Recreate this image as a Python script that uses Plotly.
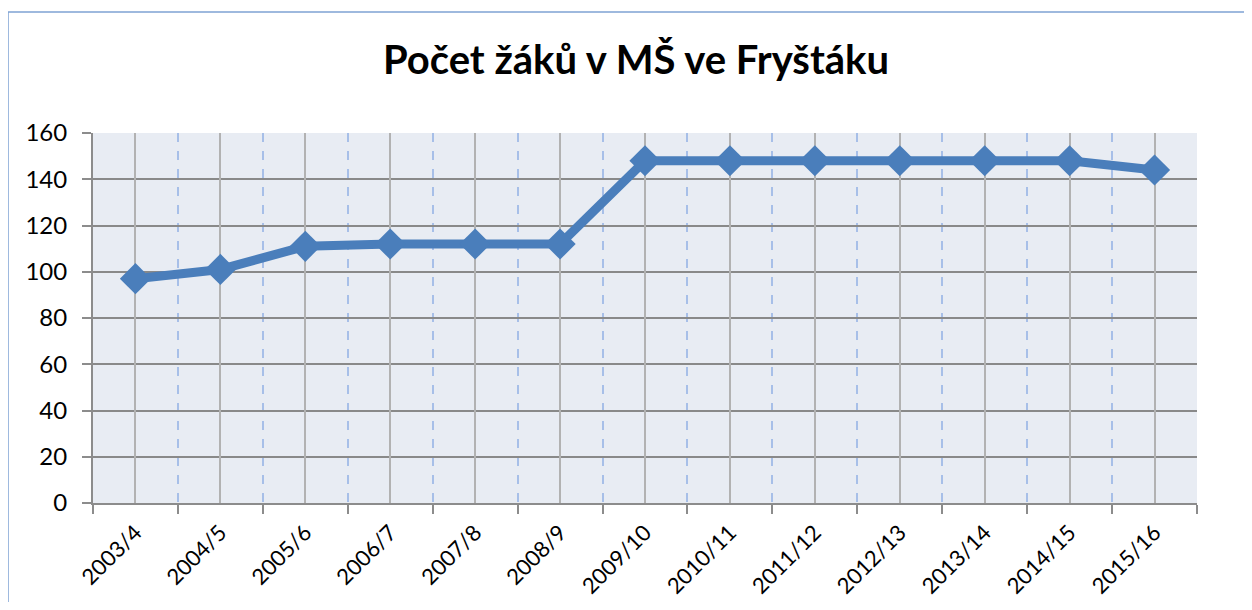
import plotly.graph_objects as go

categories = ["2003/4", "2004/5", "2005/6", "2006/7", "2007/8", "2008/9", "2009/10",
              "2010/11", "2011/12", "2012/13", "2013/14", "2014/15", "2015/16"]
values = [97, 101, 111, 112, 112, 112, 148, 148, 148, 148, 148, 148, 144]
title_text = "Počet žáků v MŠ ve Fryštáku"

W, H = 1236, 594
L, R, T, B = 85, 47, 125, 99
pw = W - L - R
ph = H - T - B

fig = go.Figure()
fig.add_trace(go.Scatter(
    x=categories, y=values, mode="lines+markers",
    line=dict(color="#4A7EBB", width=9),
    marker=dict(symbol="diamond", size=24, color="#4A7EBB"),
    showlegend=False, hoverinfo="x+y",
))
# invisible trace on overlay axis so center gridlines render
fig.add_trace(go.Scatter(x=[0, 12], y=[0, 0], xaxis="x2", mode="markers",
                         marker=dict(opacity=0), showlegend=False, hoverinfo="skip"))

font = "Lato, 'Open Sans', sans-serif"
fig.update_layout(
    width=W, height=H,
    margin=dict(l=L, r=R, t=T, b=B, autoexpand=False),
    paper_bgcolor="white",
    plot_bgcolor="#E8ECF3",
    title=dict(text=f"<b>{title_text}</b>", x=(636 - 8) / W, xanchor="center",
               y=1 - 52 / H, yanchor="middle",
               font=dict(family=font, size=40, color="black")),
    xaxis=dict(
        type="category", range=[-0.5, 12.5], tickson="boundaries",
        showgrid=True, gridcolor="#A7BFE8", gridwidth=1.5, griddash="dash",
        showline=True, linecolor="#8C8C8C", linewidth=2,
        ticks="outside", ticklen=9, tickcolor="#8C8C8C", tickwidth=1.5,
        tickangle=-45, tickfont=dict(family=font, size=22, color="black"),
        ticklabelstandoff=6, automargin=False,
        zeroline=False,
    ),
    xaxis2=dict(
        overlaying="x", range=[-0.5, 12.5], tick0=0, dtick=1,
        showgrid=True, gridcolor="#B2B2B2", gridwidth=2,
        showticklabels=False, zeroline=False, showline=False, automargin=False,
    ),
    yaxis=dict(
        range=[0, 160], dtick=20, showgrid=True, gridcolor="#898989", gridwidth=2,
        showline=True, linecolor="#8C8C8C", linewidth=2,
        ticks="outside", ticklen=9, tickcolor="#8C8C8C", tickwidth=2,
        tickfont=dict(family=font, size=24, color="black"),
        ticklabelstandoff=10, automargin=False,
        zeroline=False,
    ),
    shapes=[dict(type="rect", xref="paper", yref="paper",
                 x0=(0 - L) / pw, x1=(W + 10 - L) / pw,
                 y0=-(B + 10) / ph, y1=(H - 4 - B) / ph,
                 line=dict(color="#7FA3D4", width=1.5), layer="below")],
)

fig.write_html("out.html")
